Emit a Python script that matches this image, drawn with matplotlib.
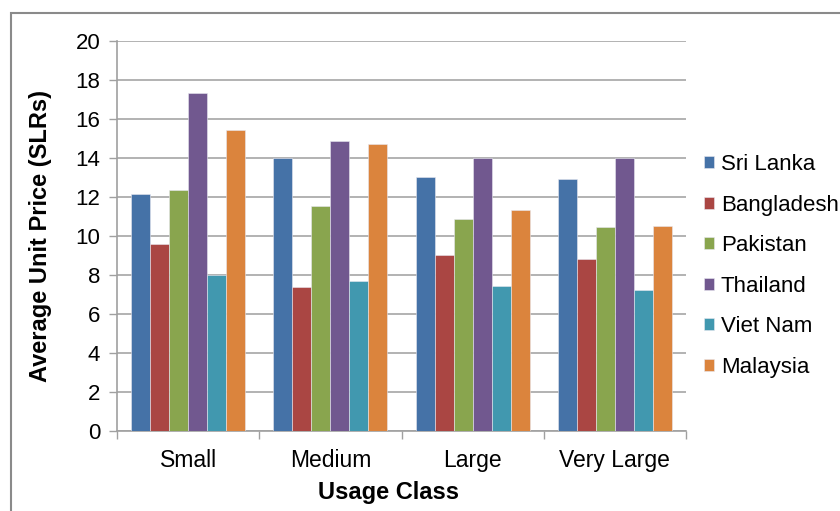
import matplotlib
matplotlib.use("Agg")
import matplotlib.pyplot as plt
from matplotlib.patches import Rectangle
import numpy as np

plt.rcParams['font.family'] = ['Liberation Sans', 'DejaVu Sans']

categories = ["Small", "Medium", "Large", "Very Large"]
series_names = ["Sri Lanka", "Bangladesh", "Pakistan", "Thailand", "Viet Nam", "Malaysia"]
sri_lanka = [12.13, 13.98, 13.04, 12.92]
bangladesh = [9.58, 7.38, 9.01, 8.84]
pakistan = [12.36, 11.55, 10.85, 10.45]
thailand = [17.31, 14.89, 14.0, 14.0]
viet_nam = [8.02, 7.68, 7.44, 7.22]
malaysia = [15.46, 14.72, 11.31, 10.51]
yticks = [0, 2, 4, 6, 8, 10, 12, 14, 16, 18, 20]

series_values = [sri_lanka, bangladesh, pakistan, thailand, viet_nam, malaysia]
colors = ["#4572A7", "#AA4643", "#89A54E", "#71588F", "#4198AF", "#DB843D"]

W, H = 840, 511
fig = plt.figure(figsize=(W / 100, H / 100), dpi=100)
ax = fig.add_axes([117 / W, 1 - 431 / H, (686 - 117) / W, (431 - 41) / H])

# outer chart frame
fig.patches.append(Rectangle((11 / W, -0.05), 1.2, 1 - 13 / H + 0.05,
                             transform=fig.transFigure, fill=False,
                             edgecolor="#8a8a8a", linewidth=1.5))

x = np.arange(len(categories))
n = len(series_names)
bw = 1 / (n + 1.5)
for i, (name, vals, c) in enumerate(zip(series_names, series_values, colors)):
    ax.bar(x + (i - (n - 1) / 2) * bw, vals, width=bw, color=c, label=name,
           edgecolor="#e8e8f0", linewidth=0.4, zorder=3)

ax.set_xlim(-0.5, len(categories) - 0.5)
ax.set_ylim(0, 20)
ax.set_yticks(yticks)
ax.set_yticklabels([str(v) for v in yticks], fontsize=16)
ax.set_xticks(x)
ax.set_xticklabels(categories, fontsize=16.5)
ax.set_xticks(np.arange(-0.5, len(categories), 1), minor=True)
ax.tick_params(axis='x', which='major', length=0, pad=13)
ax.tick_params(axis='x', which='minor', length=6, color="#a0a0a0", width=1)
ax.tick_params(axis='y', length=6, color="#a0a0a0", width=1, pad=6)

ax.grid(axis='y', color="#a6a6a6", linewidth=1.2, zorder=0)
ax.set_axisbelow(True)
for s in ["top", "right"]:
    ax.spines[s].set_visible(False)
for s in ["left", "bottom"]:
    ax.spines[s].set_color("#a0a0a0")
    ax.spines[s].set_linewidth(1.2)

ax.set_ylabel("Average Unit Price (SLRs)", fontsize=17, fontweight="bold")
ax.yaxis.set_label_coords((52 - 117) / 569, 0.5)
ax.set_xlabel("Usage Class", fontsize=17, fontweight="bold")
ax.xaxis.set_label_coords((388 - 117) / 569, (431 - 481) / 390)

leg = fig.legend(loc="center left", bbox_to_anchor=(704 / W, 1 - 266 / H),
                 bbox_transform=fig.transFigure, frameon=False,
                 fontsize=16, handlelength=0.45, handleheight=0.45,
                 handletextpad=0.3, labelspacing=0.88, borderpad=0,
                 borderaxespad=0)

fig.savefig("out.png", dpi=100)
